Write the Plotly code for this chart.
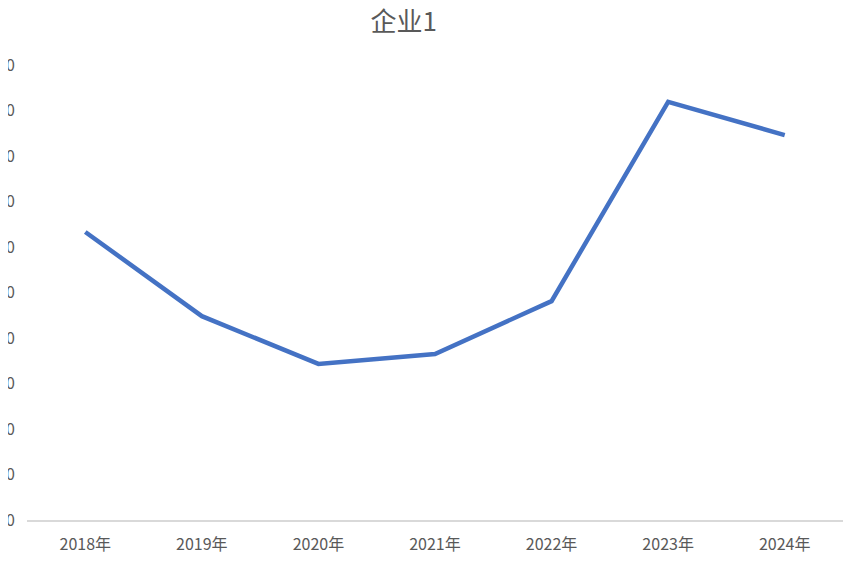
import plotly.graph_objects as go

years = ["2018年", "2019年", "2020年", "2021年", "2022年", "2023年", "2024年"]
values = [63.3, 44.8, 34.3, 36.5, 48.1, 91.9, 84.6]
y_ticks = [0, 10, 20, 30, 40, 50, 60, 70, 80, 90, 100]

fig = go.Figure()
fig.add_trace(go.Scatter(x=years, y=values, mode="lines",
                         line=dict(color="#4472C4", width=4.5)))

fig.update_layout(
    width=853, height=564,
    margin=dict(l=19, r=18, t=57, b=52),
    paper_bgcolor="white", plot_bgcolor="white",
    font=dict(family="Noto Sans CJK SC, Microsoft YaHei, sans-serif", color="#595959", size=15),
    title=dict(text="企业1", x=0.464, xanchor="center", y=0.975, yanchor="middle",
               font=dict(size=26, color="#595959")),
    showlegend=False,
    xaxis=dict(showgrid=False, showline=True, linecolor="#D9D9D9", linewidth=1.5,
               ticks="", tickfont=dict(size=16, color="#595959"), ticklabelstandoff=9,
               range=[-0.5, 6.5]),
    yaxis=dict(showgrid=False, showline=False, zeroline=False, range=[0, 100],
               tickvals=y_ticks, ticktext=[str(v) for v in y_ticks],
               tickfont=dict(size=16, color="#595959"), automargin=False,
               ticklabelstandoff=11),
)

fig.write_html("out.html")
